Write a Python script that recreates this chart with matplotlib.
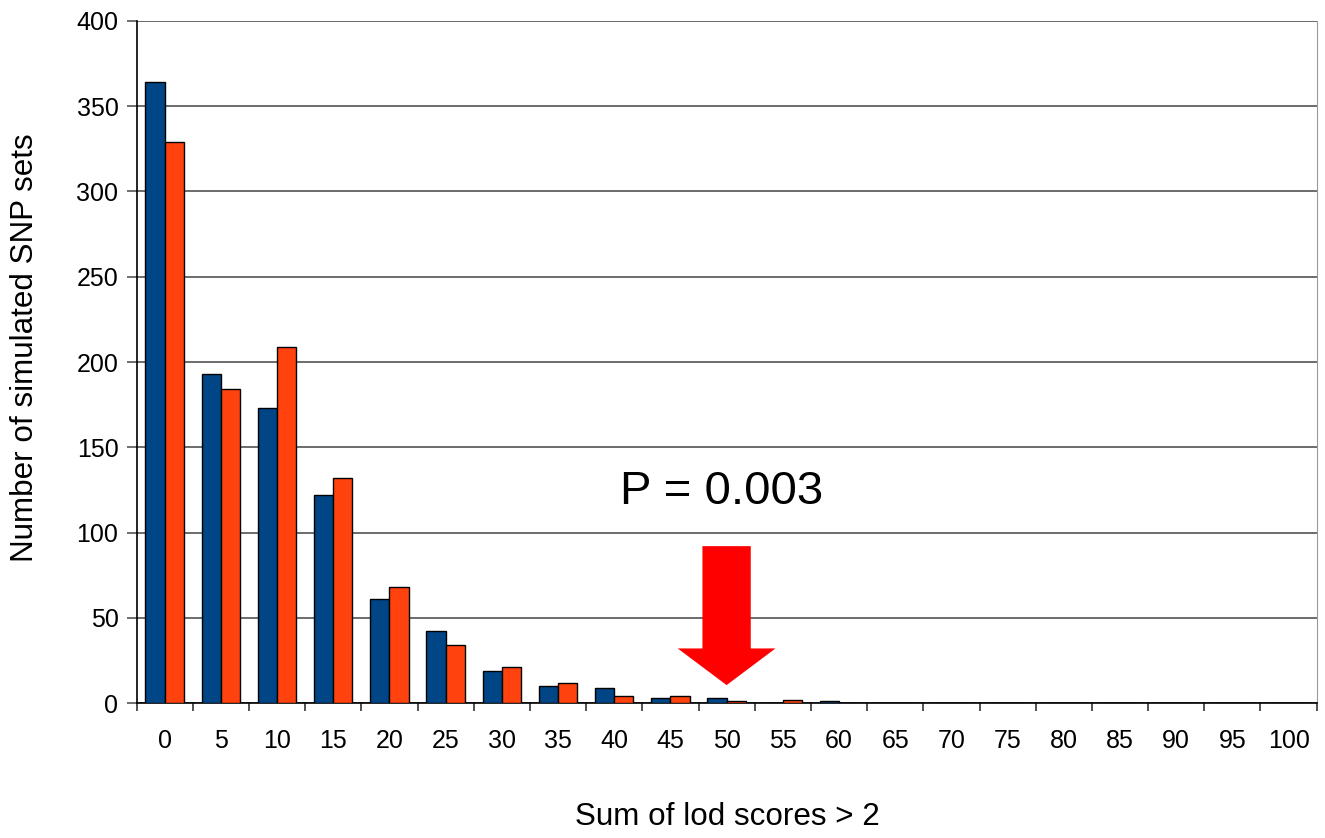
import matplotlib
matplotlib.use("Agg")
import matplotlib.pyplot as plt
from matplotlib.patches import FancyArrow
import numpy as np

categories = ["0", "5", "10", "15", "20", "25", "30", "35", "40", "45", "50",
              "55", "60", "65", "70", "75", "80", "85", "90", "95", "100"]
series_blue = [364, 193, 173, 122, 61, 42, 19, 10, 9, 3, 3, 0, 1, 0, 0, 0, 0, 0, 0, 0, 0]
series_orange = [329, 184, 209, 132, 68, 34, 21, 12, 4, 4, 1, 2, 0, 0, 0, 0, 0, 0, 0, 0, 0]
y_ticks = [0, 50, 100, 150, 200, 250, 300, 350, 400]

plt.rcParams['font.family'] = ['Liberation Sans', 'DejaVu Sans']

fig = plt.figure(figsize=(13.25, 8.38), dpi=100)
ax = fig.add_axes([136.5 / 1325, 1 - 703 / 838, (1316.7 - 136.5) / 1325, (703 - 21) / 838])

x = np.arange(len(categories))
w = 0.342
ax.bar(x - w / 2, series_blue, width=w, color='#004586', edgecolor='black', linewidth=1.0, zorder=3)
ax.bar(x + w / 2, series_orange, width=w, color='#FF420E', edgecolor='black', linewidth=1.0, zorder=3)

ax.set_xlim(-0.5, len(categories) - 0.5)
ax.set_ylim(0, 400)
ax.set_yticks(y_ticks)
ax.set_yticklabels([str(v) for v in y_ticks], fontsize=18)
ax.set_xticks(x)
ax.set_xticklabels(categories, fontsize=18)
ax.set_xticks(np.arange(-0.5, len(categories)), minor=True)
ax.tick_params(axis='x', which='major', length=0, pad=19)
ax.tick_params(axis='x', which='minor', length=6, width=1.2, color='#333333', direction='out')
ax.tick_params(axis='y', which='major', length=7, width=1.2, color='#555555', direction='out', pad=6)

ax.yaxis.grid(True, color='#444444', linewidth=1.1, zorder=0)
ax.set_axisbelow(True)
ax.spines['top'].set_visible(False)
ax.spines['right'].set_color('#999999')
ax.spines['left'].set_color('black')
ax.spines['bottom'].set_color('black')
ax.spines['left'].set_linewidth(1.2)
ax.spines['bottom'].set_linewidth(1.2)

fig.text(727 / 1325, 1 - 825 / 838, "Sum of lod scores > 2", fontsize=22.6,
         ha='center', va='baseline')
fig.text(25 / 1325, 1 - 348 / 838, "Number of simulated SNP sets", fontsize=22.6,
         ha='center', va='center', rotation=90)

ax.text(9.92, 124, "P = 0.003", fontsize=34, ha='center', va='center', zorder=5)
arrow = FancyArrow(10.0, 92, 0, -81.5, width=0.86, head_width=1.74, head_length=21.5,
                   length_includes_head=True, color='#FF0000', linewidth=0, zorder=6)
ax.add_patch(arrow)

fig.savefig("out.png", dpi=100)
